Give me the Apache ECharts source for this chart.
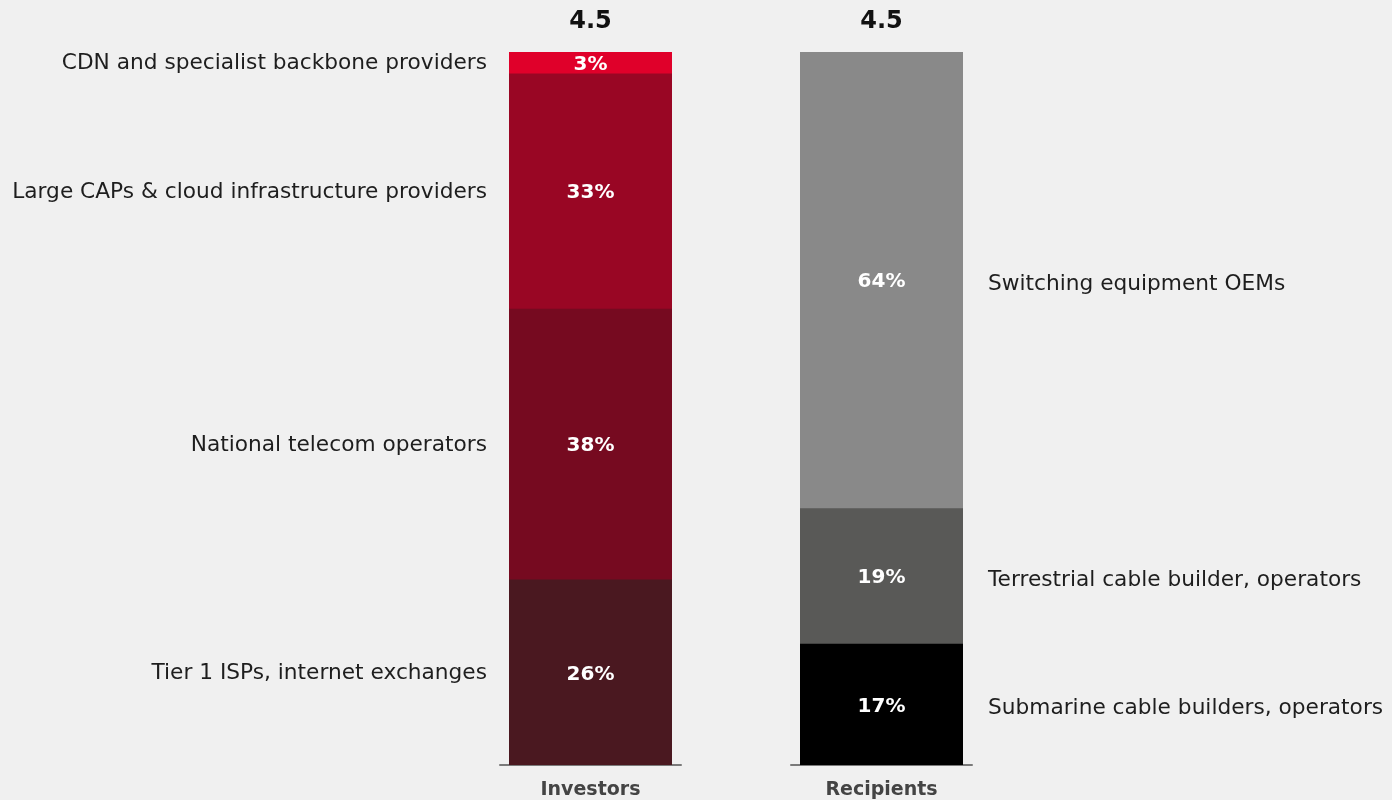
<!DOCTYPE html>
<html>
<head>
<meta charset="utf-8">
<script src="https://cdn.jsdelivr.net/npm/echarts@6/dist/echarts.min.js"></script>
<style>
  html, body { margin: 0; padding: 0; background: #f0f0f0; }
  #chart { width: 1392px; height: 800px; }
</style>
</head>
<body>
<div id="chart"></div>
<script>
// data
const columns = ['Investors', 'Recipients']
const totals = ['4.5', '4.5']

// stacked bottom -> top
const investorNames = ['Tier 1 ISPs, internet exchanges', 'National telecom operators', 'Large CAPs & cloud infrastructure providers', 'CDN and specialist backbone providers']
const investorShares = [26, 38, 33, 3]
const investorColors = ['#4a1820', '#760a20', '#990624', '#e0002a']

const recipientNames = ['Submarine cable builders, operators', 'Terrestrial cable builder, operators', 'Switching equipment OEMs']
const recipientShares = [17, 19, 64]
const recipientColors = ['#000000', '#595957', '#898989']

const fontFamily = 'DejaVu Sans'
const BAR_W = 163

function buildSeries(names, shares, colors, gridIdx, side) {
  const out = []
  const axes = { xAxisIndex: gridIdx * 2, yAxisIndex: gridIdx, barWidth: BAR_W, barGap: '-100%' }

  // fills: each segment drawn from 0 up to its running total, tallest first,
  // so neighbouring segments overlap and no seams show between them
  const running = []
  shares.reduce((acc, v, i) => (running[i] = acc + v), 0)
  for (let i = shares.length - 1; i >= 0; i--) {
    out.push({
      ...axes,
      name: names[i],
      type: 'bar',
      data: [running[i]],
      itemStyle: { color: colors[i] },
      label: { show: false }
    })
  }

  names.forEach((n, i) => {
    // transparent stacked segment carrying the percent
    out.push({
      ...axes,
      name: n + ' pct',
      type: 'bar',
      stack: 'pct' + gridIdx,
      silent: true,
      data: [shares[i]],
      itemStyle: { color: 'rgba(0,0,0,0)' },
      label: {
        show: true,
        position: 'inside',
        formatter: '{c}%',
        offset: [0, 2],
        color: '#fff',
        fontFamily: fontFamily,
        fontWeight: 'bold',
        fontSize: 20
      }
    })
    // transparent stacked segment carrying the side text
    out.push({
      ...axes,
      name: n + ' label',
      type: 'bar',
      stack: 'side' + gridIdx,
      silent: true,
      data: [shares[i]],
      itemStyle: { color: 'rgba(0,0,0,0)' },
      label: {
        show: true,
        position: side,
        distance: side === 'left' ? 22 : 25,
        offset: side === 'left' ? [0, 1] : [0, 4],
        formatter: n,
        color: '#1e1e1e',
        fontFamily: fontFamily,
        fontSize: 21.7
      }
    })
  })
  return out
}

const chart = echarts.init(document.getElementById('chart'))

const grids = [
  { left: 500, width: 181, top: 52, bottom: 34 },
  { left: 791, width: 181, top: 52, bottom: 34 }
]

const xAxes = []
const yAxes = []
grids.forEach((g, i) => {
  xAxes.push({
    type: 'category',
    gridIndex: i,
    data: [columns[i]],
    axisLine: { show: true, lineStyle: { color: '#7a7a7a', width: 2 } },
    axisTick: { show: false },
    axisLabel: {
      color: '#444',
      fontFamily: fontFamily,
      fontWeight: 'bold',
      fontSize: 19,
      margin: 16
    }
  })
  xAxes.push({
    type: 'category',
    gridIndex: i,
    position: 'top',
    data: [totals[i]],
    axisLine: { show: false },
    axisTick: { show: false },
    axisLabel: {
      color: '#111',
      fontFamily: fontFamily,
      fontWeight: 'bold',
      fontSize: 24,
      margin: 18
    }
  })
  yAxes.push({
    type: 'value',
    gridIndex: i,
    min: 0,
    max: 100,
    show: false,
    splitLine: { show: false }
  })
})

chart.setOption({
  backgroundColor: '#f0f0f0',
  animation: false,
  grid: grids,
  xAxis: xAxes,
  yAxis: yAxes,
  series: [
    ...buildSeries(investorNames, investorShares, investorColors, 0, 'left'),
    ...buildSeries(recipientNames, recipientShares, recipientColors, 1, 'right')
  ]
})

window.addEventListener('resize', () => chart.resize())
</script>
</body>
</html>
